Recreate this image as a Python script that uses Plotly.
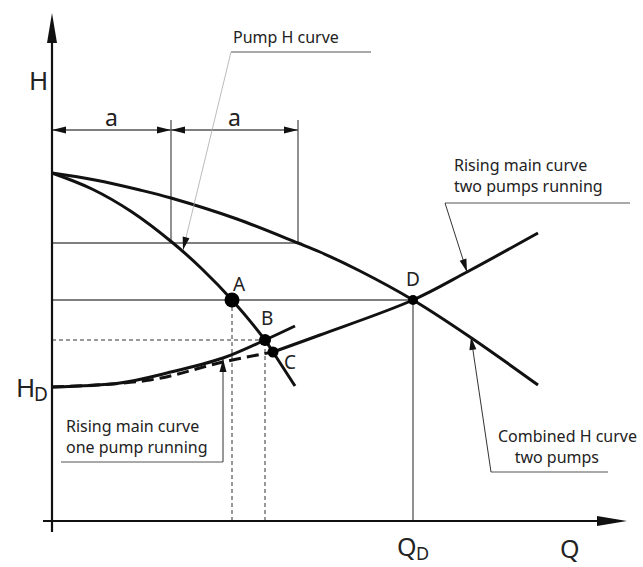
import numpy as np
import plotly.graph_objects as go

W, H = 643, 567
X_RANGE = [-0.52, 5.91]
Y_RANGE = [-0.46, 5.21]
PX = (X_RANGE[1] - X_RANGE[0]) / W  # data units per screen pixel (same on both axes)

FONT = "Noto Sans"
INK = "#111111"
GREY = "#555555"

# ---- curves (Q, H) -------------------------------------------------------
# single pump H curve
pump_q = [0.00, 0.40, 0.80, 1.21, 1.50, 1.80, 2.13, 2.21, 2.43]
pump_h = [3.48, 3.32, 3.09, 2.78, 2.52, 2.21, 1.81, 1.69, 1.35]

# combined H curve, two pumps in parallel
comb_q = [0.00, 0.43, 0.88, 1.19, 1.85, 2.46, 2.68, 3.08, 3.61, 4.18, 4.86]
comb_h = [3.48, 3.41, 3.31, 3.23, 3.02, 2.78, 2.69, 2.50, 2.21, 1.84, 1.36]

# rising main curve, one pump running
rm1_q = [0.00, 0.68, 1.15, 1.71, 2.13, 2.43]
rm1_h = [1.34, 1.38, 1.48, 1.63, 1.81, 1.95]

# rising main curve, two pumps running (dashed low-flow part, solid upper part)
rm2_dash_q = [0.00, 0.98, 1.71, 2.21]
rm2_dash_h = [1.34, 1.41, 1.59, 1.69]
rm2_q = [2.21, 2.68, 3.61, 4.15, 4.86]
rm2_h = [1.69, 1.86, 2.21, 2.49, 2.88]

# operating points
pt_names = ["A", "B", "C", "D"]
pt_q = [1.80, 2.13, 2.21, 3.61]
pt_h = [2.21, 1.81, 1.69, 2.21]
pt_size = [15, 12, 11, 10]

H_D = 1.34
Q_D = 3.61

# dimension "a" construction
a_q = [0.00, 1.19, 2.46]
a_h_ref = 2.78
dim_h = 3.91
dim_top = 4.01

fig = go.Figure()


def line(xs, ys, color=INK, width=3.0, dash=None, shape="linear"):
    fig.add_trace(go.Scatter(x=xs, y=ys, mode="lines",
                             line=dict(color=color, width=width, dash=dash, shape=shape),
                             hoverinfo="skip", showlegend=False))


def head(tip, frm, length=14, half=3.5, color=INK):
    """Filled triangular arrowhead with its point at tip, aimed away from frm."""
    t = np.array(tip, float)
    d = t - np.array(frm, float)
    d /= np.hypot(*d)
    n = np.array([-d[1], d[0]])
    b = t - d * length * PX
    p1 = b + n * half * PX
    p2 = b - n * half * PX
    fig.add_shape(type="path", xref="x", yref="y",
                  path=f"M {t[0]} {t[1]} L {p1[0]} {p1[1]} L {p2[0]} {p2[1]} Z",
                  fillcolor=color, line=dict(width=0), layer="above")


def text(x, y, s, size=16, xanchor="left", color="#222222", align="left"):
    fig.add_annotation(x=x, y=y, text=s, showarrow=False, xref="x", yref="y",
                       xanchor=xanchor, yanchor="middle", align=align,
                       font=dict(family=FONT, size=size, color=color))


def subscripted(x, y, main, sub, size=25):
    """Symbol with a lowered subscript, e.g. Q with D."""
    text(x, y, main, size, "right")
    text(x - 5 * PX, y - 7 * PX, sub, round(size * 0.72), "left")


# ---- thin construction lines ------------------------------------------------
line([0, pt_q[3]], [pt_h[3], pt_h[3]], GREY, 1.3)          # H level of A and D
line([Q_D, Q_D], [0, pt_h[3]], GREY, 1.3)                  # Q_D drop line
line([0, a_q[2]], [a_h_ref, a_h_ref], GREY, 1.3)           # level used for "a"
line([a_q[1], a_q[1]], [a_h_ref, dim_top], GREY, 1.3)
line([a_q[2], a_q[2]], [a_h_ref, dim_top], GREY, 1.3)
line([0, pt_q[1]], [pt_h[1], pt_h[1]], "#333333", 1.0, "4px,3px")
line([pt_q[0], pt_q[0]], [0, pt_h[0]], "#333333", 1.0, "4px,3px")
line([pt_q[1], pt_q[1]], [0, pt_h[1]], "#333333", 1.0, "4px,3px")

# dimension arrows
line([0, a_q[2]], [dim_h, dim_h], GREY, 1.3)
head((0, dim_h), (1, dim_h))
head((a_q[1], dim_h), (0, dim_h))
head((a_q[1], dim_h), (a_q[2], dim_h))
head((a_q[2], dim_h), (0, dim_h))
text((a_q[0] + a_q[1]) / 2, dim_h + 0.13, "a", 23, "center")
text((a_q[1] + a_q[2]) / 2, dim_h + 0.13, "a", 23, "center")

# ---- main curves -----------------------------------------------------------
line(comb_q, comb_h, INK, 3.0, shape="spline")
line(pump_q, pump_h, INK, 3.0, shape="spline")
line(rm1_q, rm1_h, INK, 3.0, shape="spline")
line(rm2_dash_q, rm2_dash_h, INK, 3.0, "12px,6px", shape="spline")
line(rm2_q, rm2_h, INK, 3.0, shape="spline")

# ---- axes --------------------------------------------------------------------
line([0, 0], [-0.11, 4.90], INK, 2.2)
line([-0.09, 5.60], [0, 0], INK, 2.2)
head((0, 5.08), (0, 0), length=30, half=5)
head((5.75, 0), (0, 0), length=30, half=5)
text(-0.14, 4.41, "H", 26, "center")
text(5.18, -0.27, "Q", 25, "center")
subscripted(Q_D + 0.06, -0.25, "Q", "D")
subscripted(-0.15, H_D, "H", "D", 26)

# ---- operating points --------------------------------------------------------
fig.add_trace(go.Scatter(x=pt_q, y=pt_h, mode="markers",
                         marker=dict(color="#000000", size=pt_size, opacity=1,
                                     line=dict(width=0)),
                         hoverinfo="skip", showlegend=False))
label_off = [(7, -16), (2, -22), (17, 10), (0, -21)]
for name, q, h, (dx, dy) in zip(pt_names, pt_q, pt_h, label_off):
    text(q + dx * PX, h - dy * PX, name, 19, "center")

# ---- callouts ----------------------------------------------------------------
def callout(under, anchor, tip, lead_color, lead_width):
    line(under, [anchor[1], anchor[1]], GREY, 1.2)
    line([anchor[0], tip[0]], [anchor[1], tip[1]], lead_color, lead_width)
    head(tip, anchor, length=13, half=3.5)

callout([1.79, 3.19], (1.79, 4.69), (1.31, 2.71), "#aaaaaa", 0.8)
text(1.79, 4.84, "Pump H curve")

callout([3.93, 5.78], (3.93, 3.18), (4.15, 2.49), "#333333", 1.0)
text(4.00, 3.46, "Rising main curve<br>two pumps running")

callout([4.39, 5.56], (4.39, 0.49), (4.19, 1.84), "#333333", 1.0)
text(4.44, 0.745, "Combined H curve<br>&nbsp;&nbsp;&nbsp;&nbsp;two pumps")

callout([0.09, 1.71], (1.71, 0.59), (1.71, 1.62), "#333333", 1.0)
text(0.12, 0.85, "Rising main curve<br>one pump running")

fig.update_layout(
    width=W, height=H, margin=dict(l=0, r=0, t=0, b=0),
    paper_bgcolor="white", plot_bgcolor="white",
    xaxis=dict(range=X_RANGE, visible=False, fixedrange=True),
    yaxis=dict(range=Y_RANGE, visible=False, fixedrange=True),
    showlegend=False,
)
fig.write_html("out.html")
